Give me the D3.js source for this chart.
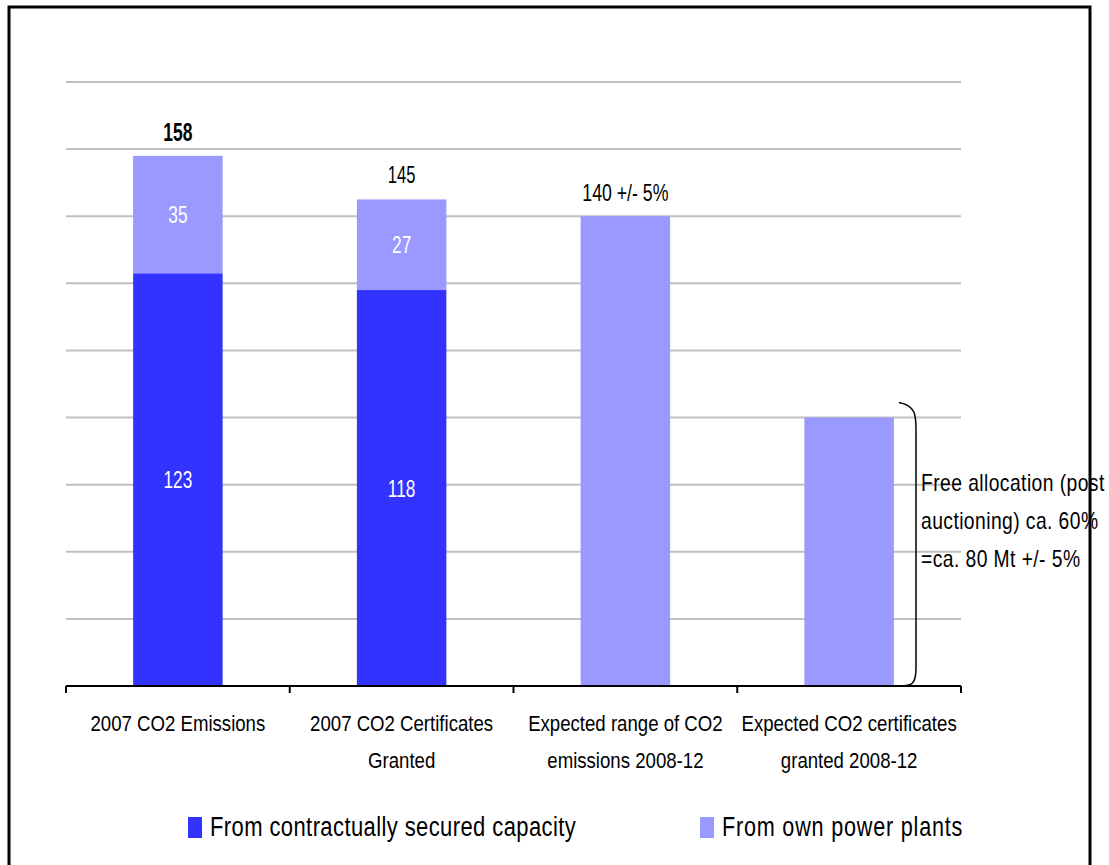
<!DOCTYPE html>
<html><head><meta charset="utf-8">
<script src="https://cdn.jsdelivr.net/npm/d3@7"></script>
<style>
body{margin:0;background:#fff;}
text{font-family:"Liberation Sans Narrow","Arial Narrow","Liberation Sans",sans-serif;}
</style></head>
<body><svg id="c" width="1109" height="865"></svg>
<script>
const categories = [["2007 CO2 Emissions"],["2007 CO2 Certificates","Granted"],["Expected range of CO2","emissions 2008-12"],["Expected CO2 certificates","granted 2008-12"]];
const catKeys = ["c1","c2","c3","c4"];
const contractual = [123, 118, null, null];
const ownPlants = [35, 27, 140, 80];
const totalLabels = ["158", "145", "140 +/- 5%", ""];
const yTicks = [20,40,60,80,100,120,140,160,180];
const seriesNames = ["From contractually secured capacity","From own power plants"];
const annotation = ["Free allocation (post","auctioning) ca. 60%","=ca. 80 Mt +/- 5%"];
const colors = ["#3333FF","#9999FF"];

const SX = 0.81;
const svg = d3.select("#c");
function label(parent, x, y, str, opts){
  opts = opts||{};
  return parent.append("text")
    .attr("transform",`translate(${x},${y}) scale(${opts.sx||SX},1)`)
    .attr("text-anchor",opts.anchor||"middle")
    .attr("dominant-baseline","central")
    .attr("font-size",opts.size||23)
    .attr("font-weight",opts.weight||"normal")
    .attr("letter-spacing",opts.ls||0)
    .attr("fill",opts.fill||"#000")
    .text(str);
}

// frame
svg.append("rect").attr("x",9).attr("y",7).attr("width",1081).attr("height",880)
  .attr("fill","none").attr("stroke","#000").attr("stroke-width",3);

const x = d3.scaleBand().domain(catKeys).range([66,961]).paddingInner(0.6).paddingOuter(0.3);
const y = d3.scaleLinear().domain([0,180]).range([686,82]);

// gridlines
svg.append("g").selectAll("line").data(yTicks).join("line")
  .attr("x1",66).attr("x2",961).attr("y1",d=>y(d)).attr("y2",d=>y(d))
  .attr("stroke","#c0c0c0").attr("stroke-width",2);

// bars
const g = svg.append("g");
catKeys.forEach((k,i)=>{
  const c = contractual[i]||0;
  const cx = x(k)+x.bandwidth()/2;
  if(contractual[i]!=null){
    g.append("rect").attr("x",x(k)).attr("width",x.bandwidth())
      .attr("y",y(c)).attr("height",y(0)-y(c)).attr("fill",colors[0]);
    label(g, cx, (y(0)+y(c))/2, c, {fill:"#fff", size:24, sx:0.72});
  }
  const o = ownPlants[i];
  g.append("rect").attr("x",x(k)).attr("width",x.bandwidth())
    .attr("y",y(c+o)).attr("height",y(c)-y(c+o)).attr("fill",colors[1]);
  if(contractual[i]!=null){
    label(g, cx, (y(c)+y(c+o))/2, o, {fill:"#fff", size:24, sx:0.72});
  }
  if(totalLabels[i]){
    const opts = i===0 ? {size:25, weight:"bold", sx:0.7}
               : (i===1 ? {size:23, sx:0.72} : {size:23, sx:0.77});
    label(g, cx, y(c+o)-24, totalLabels[i], opts);
  }
});

// x axis
const tickXs = d3.range(catKeys.length+1).map(i=>x.range()[0]+i*(x.range()[1]-x.range()[0])/catKeys.length);
svg.append("line").attr("x1",66).attr("x2",961).attr("y1",y(0)).attr("y2",y(0))
  .attr("stroke","#000").attr("stroke-width",2);
svg.append("g").selectAll("line").data(tickXs).join("line")
  .attr("x1",d=>d).attr("x2",d=>d).attr("y1",y(0)).attr("y2",y(0)+7)
  .attr("stroke","#000").attr("stroke-width",2);
catKeys.forEach((k,i)=>{
  categories[i].forEach((line,j)=>{
    label(svg, x(k)+x.bandwidth()/2, 723+j*37, line, {size:23});
  });
});

// bracket
const k4 = catKeys[3];
const bTop = y(80), bBot = y(0);
svg.append("path").attr("d",
  `M${x(k4)+x.bandwidth()+5},${bTop-15} C${917},${bTop-12} ${916},${bTop} ${916},${bTop+15} L916,${bBot-18} C916,${bBot-2} ${912},${bBot} ${x(k4)+x.bandwidth()+6},${bBot}`)
  .attr("fill","none").attr("stroke","#000").attr("stroke-width",1.5);

annotation.forEach((t,i)=>{
  label(svg, 921, 483+i*38, t, {anchor:"start", size:23, sx:0.84, ls:0.5});
});

// legend
const legX = [188, 700];
seriesNames.forEach((n,i)=>{
  svg.append("rect").attr("x",legX[i]).attr("y",817).attr("width",14).attr("height",21).attr("fill",colors[i]);
  label(svg, legX[i]+22, 827, n, {anchor:"start", size:27, sx:i===0?0.815:0.8, ls:i===1?1:0.5});
});
</script></body></html>
